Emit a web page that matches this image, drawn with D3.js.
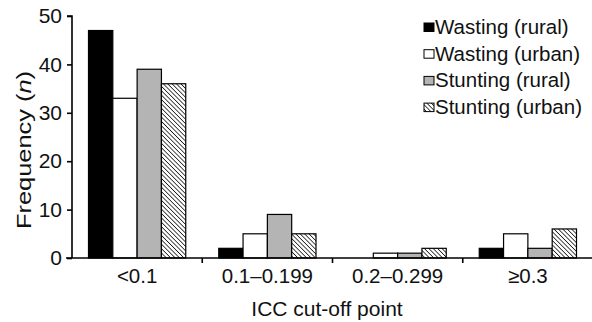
<!DOCTYPE html>
<html>
<head>
<meta charset="utf-8">
<script src="https://cdn.jsdelivr.net/npm/d3@7"></script>
<style>
  body { margin: 0; background: #fff; }
  text { font-family: "Liberation Sans", Arial, sans-serif; fill: #111; }
</style>
</head>
<body>
<div id="chart"></div>
<script>
// ICC cut-off categories and frequency per series
const categories = ["<0.1", "0.1\u20130.199", "0.2\u20130.299", "\u22650.3"];
const seriesNames = ["Wasting (rural)", "Wasting (urban)", "Stunting (rural)", "Stunting (urban)"];
const wastingRural = [47, 2, 0, 2];
const wastingUrban = [33, 5, 1, 5];
const stuntingRural = [39, 9, 1, 2];
const stuntingUrban = [36, 5, 2, 6];
const yTicks = [0, 10, 20, 30, 40, 50];

const series = [wastingRural, wastingUrban, stuntingRural, stuntingUrban];
const fills = ["#000", "#fff", "#b4b4b4", "url(#hatch)"];

const W = 592, H = 322;
const margin = { top: 16, right: -1, bottom: 64, left: 72 };

const svg = d3.select("#chart").append("svg")
  .attr("width", W)
  .attr("height", H);

// diagonal hatch for stunting (urban), lines run top-left to bottom-right
const pat = svg.append("defs").append("pattern")
  .attr("id", "hatch")
  .attr("patternUnits", "userSpaceOnUse")
  .attr("width", 3.1).attr("height", 3.1)
  .attr("patternTransform", "rotate(-45)");
pat.append("rect").attr("width", 3.1).attr("height", 3.1).attr("fill", "#fff");
pat.append("line")
  .attr("x1", 0).attr("y1", 0).attr("x2", 0).attr("y2", 3.1)
  .attr("stroke", "#000").attr("stroke-width", 1.4);

const x0 = d3.scaleBand()
  .domain(categories)
  .range([margin.left, W - margin.right]);

const x1 = d3.scaleBand()
  .domain(d3.range(series.length))
  .range([16.5, x0.bandwidth() - 16.5]);

const y = d3.scaleLinear()
  .domain([0, 50])
  .range([H - margin.bottom, margin.top]);

// bars
categories.forEach((c, ci) => {
  series.forEach((vals, si) => {
    svg.append("rect")
      .attr("x", x0(c) + x1(si))
      .attr("y", y(vals[ci]))
      .attr("width", x1.bandwidth())
      .attr("height", y(0) - y(vals[ci]))
      .attr("fill", fills[si])
      .attr("stroke", "#000")
      .attr("stroke-width", 1.2);
  });
});

// y axis
const yAxis = svg.append("g")
  .attr("transform", `translate(${margin.left},0)`)
  .call(d3.axisLeft(y).tickValues(yTicks).tickSize(5).tickPadding(5));
yAxis.select(".domain").attr("stroke-width", 1.6).attr("d", `M-5,${y(50)}H0V${y(0)}`);
yAxis.selectAll(".tick line").attr("stroke-width", 1.6);
yAxis.selectAll("text").style("font-size", "21px").attr("fill", "#111");

// x axis, ticks at category boundaries
const xAxisG = svg.append("g").attr("transform", `translate(0,${y(0)})`);
xAxisG.append("line")
  .attr("x1", margin.left - 6).attr("x2", W)
  .attr("stroke", "#000").attr("stroke-width", 1.6);
xAxisG.selectAll(".btick")
  .data(categories.slice(1))
  .join("line")
  .attr("x1", d => x0(d)).attr("x2", d => x0(d))
  .attr("y1", 0).attr("y2", 5)
  .attr("stroke", "#000").attr("stroke-width", 1.6);
xAxisG.selectAll(".xlab")
  .data(categories)
  .join("text")
  .attr("x", d => x0(d) + x0.bandwidth() / 2)
  .attr("y", 25)
  .attr("text-anchor", "middle")
  .style("font-size", "20.5px")
  .text(d => d);

// axis titles
svg.append("text")
  .attr("x", 327).attr("y", 316)
  .attr("text-anchor", "middle")
  .style("font-size", "21px")
  .text("ICC cut-off point");

const yt = svg.append("text")
  .attr("transform", `translate(31,150) rotate(-90)`)
  .attr("text-anchor", "middle")
  .attr("textLength", 158)
  .attr("lengthAdjust", "spacingAndGlyphs")
  .style("font-size", "21px");
yt.append("tspan").text("Frequency (");
yt.append("tspan").style("font-style", "italic").text("n");
yt.append("tspan").text(")");

// legend
const legend = svg.append("g").attr("transform", "translate(424,0)");
seriesNames.forEach((name, i) => {
  const cy = 27 + i * 26.7;
  legend.append("rect")
    .attr("x", 0).attr("y", cy - 4)
    .attr("width", 10).attr("height", 8.5)
    .attr("fill", fills[i])
    .attr("stroke", "#000").attr("stroke-width", 1);
  legend.append("text")
    .attr("x", 11).attr("y", cy + 7)
    .style("font-size", "20.5px")
    .text(name);
});
</script>
</body>
</html>
